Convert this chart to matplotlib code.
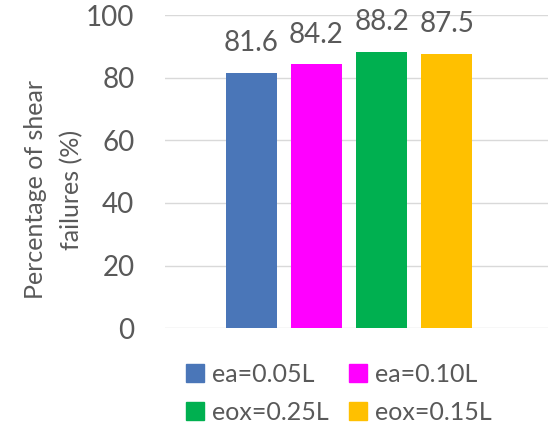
import matplotlib
matplotlib.use("Agg")
import matplotlib.pyplot as plt
from matplotlib.patches import Patch

plt.rcParams['font.family'] = ['Lato', 'DejaVu Sans']

labels = ['ea=0.05L', 'ea=0.10L', 'eox=0.25L', 'eox=0.15L']
values = [81.6, 84.2, 88.2, 87.5]
colors = ['#4a76b8', '#ff00ff', '#00b050', '#ffc000']
yticks = [0, 20, 40, 60, 80, 100]

txt = '#595959'
fig = plt.figure(figsize=(5.48, 4.29), dpi=100)
ax = fig.add_axes([0.301, 0.235, 0.699, 0.73])

x = list(range(len(values)))
ax.bar(x, values, width=0.78, color=colors, zorder=3)
for xi, v in zip(x, values):
    ax.text(xi, v + 9.5, f'{v:.1f}', ha='center', va='center', fontsize=20, color=txt)

ax.set_xlim(-1.32, 4.55)
ax.set_ylim(0, 100)
ax.set_yticks(yticks)
ax.set_yticklabels([str(t) for t in yticks], fontsize=20, color=txt)
ax.set_xticks([])
ax.tick_params(axis='y', length=0, pad=22)
ax.grid(axis='y', color='#d9d9d9', linewidth=1, zorder=0)
for s in ax.spines.values():
    s.set_visible(False)

fig.text(0.098, 0.558, 'Percentage of shear\nfailures (%)', rotation=90,
         ha='center', va='center', fontsize=18, color=txt, linespacing=1.65)

handles = [Patch(color=c, label=l) for c, l in zip(colors, labels)]
# legend order row-wise: blue, magenta / green, yellow
order = [0, 2, 1, 3]
fig.legend([handles[i] for i in order], [labels[i] for i in order], ncol=2,
           loc='center', bbox_to_anchor=(0.618, 0.083), frameon=False,
           fontsize=18, labelcolor=txt, handlelength=0.75, handleheight=0.75,
           handletextpad=0.3, columnspacing=0.8, labelspacing=0.6)

fig.savefig('out.png', dpi=100)
